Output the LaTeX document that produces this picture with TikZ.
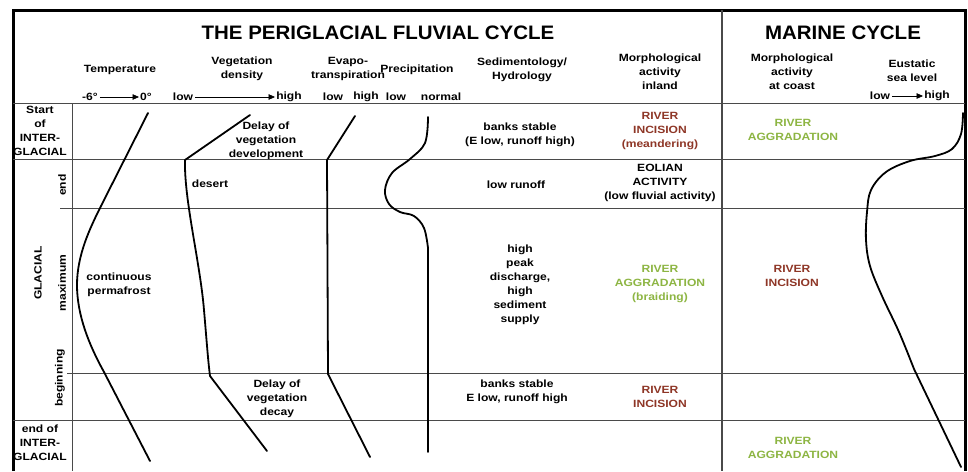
\documentclass[tikz,border=0pt]{standalone}
\usepackage{fontspec}
\setmainfont{Liberation Sans}[FakeStretch=1.15]
\newfontfamily\titlefont{Liberation Sans}[FakeStretch=1.05]
\usepackage{tikz}
\usepackage{xcolor}
\usetikzlibrary{arrows.meta, positioning}
\definecolor{IncisionBrown}{HTML}{8E3626}
\definecolor{AggradGreen}{HTML}{8DB543}
\definecolor{GridGrey}{HTML}{4A4A4A}
\tikzset{
    % Text styles
    celltext/.style={
        align=center,
        inner sep=0pt,
        font=\fontsize{10.5}{14}\selectfont\bfseries
    },
    titletext/.style={
        inner sep=0pt,
        font=\titlefont\fontsize{19.5}{22}\selectfont\bfseries
    },
    incision/.style={celltext, text=IncisionBrown},
    aggradation/.style={celltext, text=AggradGreen},
    sidetext/.style={celltext, rotate=90},
    % Line styles
    frameline/.style={line width=3pt, black},
    gridline/.style={line width=1pt, GridGrey},
    curve/.style={line width=1.8pt, line cap=round, line join=round},
    axisarrow/.style={
        -{Triangle[length=6.5pt, width=5.5pt]},
        line width=0.7pt,
        shorten <=2pt,
        shorten >=1pt
    }
}

\begin{document}
\begin{tikzpicture}[x=1pt, y=-1pt]
    \useasboundingbox (0,0) rectangle (968,471);

    % table frame and rows
    \draw[frameline] (13,471) -- (13,10) -- (965,10) -- (965,471);
    \draw[gridline] (13,103) -- (965,103);
    \draw[gridline] (13,159) -- (965,159);
    \draw[gridline] (60,208) -- (965,208);
    \draw[gridline] (67,373) -- (965,373);
    \draw[gridline] (13,420) -- (965,420);
    \draw[gridline] (72,103) -- (72,471);
    \draw[gridline, line width=1.3pt] (722,10) -- (722,471);

    % titles
    \node[titletext] (fluvial) at (378,33) {THE PERIGLACIAL FLUVIAL CYCLE};
    \node[titletext] (marine) at (843,33) {MARINE CYCLE};

    % column heads
    \node[celltext] (temp) at (120,70) {Temperature};
    \node[celltext] (veg) at (242,69) {Vegetation\\density};
    \node[celltext] (evap) at (348,69) {Evapo-\\transpiration};
    \node[celltext] (prec) at (417,70) {Precipitation};
    \node[celltext] (sed) at (522,70) {Sedimentology/\\Hydrology};
    \node[celltext] (morphIn) at (660,72) {Morphological\\activity\\inland};
    \node[celltext] (morphCo) at (792,72) {Morphological\\activity\\at coast};
    \node[celltext] (sea) at (912,71) {Eustatic\\sea level};

    % axis scales
    \node[celltext] (tempLow) at (90,97) {-6°};
    \node[celltext] (tempHigh) at (146,97) {0°};
    \node[celltext] (vegLow) at (183,97) {low};
    \node[celltext] (vegHigh) at (289,97) {high};
    \node[celltext] (evapLow) at (333,97) {low};
    \node[celltext] (evapHigh) at (366,97) {high};
    \node[celltext] (precLow) at (396,97) {low};
    \node[celltext] (precHigh) at (441,97) {normal};
    \node[celltext] (seaLow) at (880,96) {low};
    \node[celltext] (seaHigh) at (937,96) {high};
    \draw[axisarrow] (tempLow) -- (tempHigh);
    \draw[axisarrow] (vegLow) -- (vegHigh);
    \draw[axisarrow] (seaLow) -- (seaHigh);

    % periods
    \node[celltext] (startIG) at (40,131) {Start\\of\\INTER-\\GLACIAL};
    \node[sidetext] (glacial) at (38,273) {GLACIAL};
    \node[sidetext] (glEnd) at (62,185) {end};
    \node[sidetext] (glMax) at (62,283) {maximum};
    \node[sidetext] (glBegin) at (60,378) {beginning};
    \node[celltext] (endIG) at (40,443) {end of\\INTER-\\GLACIAL};

    % curves
    \draw[curve] (148,113) -- (101,206) .. controls (90,228) and (77,255) .. (77,285)
        .. controls (77,315) and (89,345) .. (104,372) -- (150,461);
    \draw[curve] (250,115) -- (185,160) .. controls (184,200) and (200,262) .. (204,310)
        .. controls (207,345) and (208,360) .. (210,376) -- (267,451);
    \draw[curve] (355,116) -- (327,160) -- (328,374) -- (370,457);
    \draw[curve] plot[smooth, tension=0.6] coordinates {(428,117) (425,143) (410,159)
        (392,173) (385,190) (389,204) (400,212) (414,216) (424,228) (428,248)} -- (428,452);
    \draw[curve] plot[smooth, tension=0.6] coordinates {(963,113) (961,134) (952,149)
        (935,156) (910,161) (886,172) (871,190) (867,212) (866,240) (870,266) (882,296)
        (899,332) (914,369)} -- (961,467);

    % curve notes
    \node[celltext] (vegDev) at (266,141) {Delay of\\vegetation\\development};
    \node[celltext] (desert) at (210,184) {desert};
    \node[celltext] (permafrost) at (119,285) {continuous\\permafrost};
    \node[celltext] (vegDecay) at (277,399) {Delay of\\vegetation\\decay};

    % sedimentology / hydrology
    \node[celltext] (sedStart) at (520,135) {banks stable\\(E low, runoff high)};
    \node[celltext] (sedEnd) at (516,185) {low runoff};
    \node[celltext] (sedMax) at (520,285) {high\\peak\\discharge,\\high\\sediment\\supply};
    \node[celltext] (sedBegin) at (517,392) {banks stable\\E low, runoff high};

    % morphological activity inland
    \node[incision] (inStart) at (660,131) {RIVER\\INCISION\\(meandering)};
    \node[celltext] (inEnd) at (660,183) {EOLIAN\\ACTIVITY\\(low fluvial activity)};
    \node[aggradation] (inMax) at (660,284) {RIVER\\AGGRADATION\\(braiding)};
    \node[incision] (inBegin) at (660,397) {RIVER\\INCISION};

    % morphological activity at coast
    \node[aggradation] (coStart) at (793,130) {RIVER\\AGGRADATION};
    \node[incision] (coMax) at (792,276) {RIVER\\INCISION};
    \node[aggradation] (coEnd) at (793,448) {RIVER\\AGGRADATION};
\end{tikzpicture}
\end{document}
